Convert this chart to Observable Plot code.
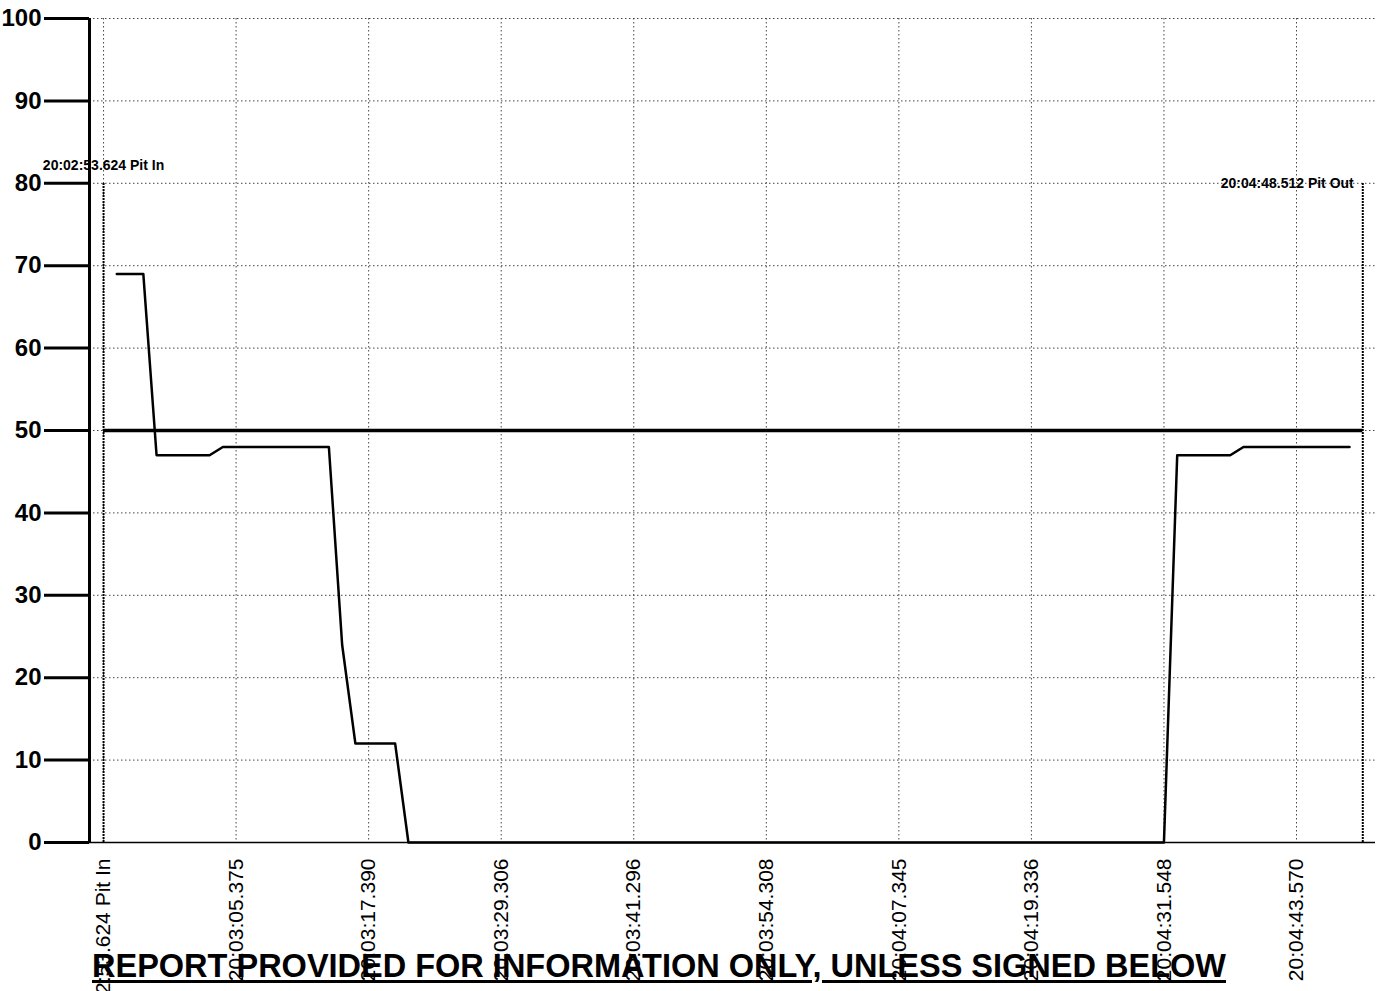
<!DOCTYPE html>
<html>
<head>
<meta charset="utf-8">
<script src="https://cdn.jsdelivr.net/npm/d3@7"></script>
<script src="https://cdn.jsdelivr.net/npm/@observablehq/plot@0.6"></script>
<style>
  html, body { margin: 0; padding: 0; background: #fff; }
  #wrap { position: relative; width: 1382px; height: 991px; overflow: hidden; }
  #report {
    position: absolute; left: 92px; top: 950px;
    font-family: "Liberation Sans", Arial, sans-serif; font-weight: bold;
    font-size: 32.5px; line-height: 32px; color: #000; white-space: nowrap;
    text-decoration: underline; text-decoration-thickness: 3px; text-underline-offset: 3px;
  }
</style>
</head>
<body>
<div id="wrap"><div id="report">REPORT PROVIDED FOR INFORMATION ONLY, UNLESS SIGNED BELOW</div></div>
<script>
// Sample index (ticks every 10 samples) and value
const sampleIdx = [1, 3, 4, 8, 9, 17, 18, 19, 22, 23, 80, 81, 85, 86, 94];
const sampleVal = [69, 69, 47, 47, 48, 48, 24, 12, 12, 0, 0, 47, 47, 48, 48];

const xTickIdx = [0, 10, 20, 30, 40, 50, 60, 70, 80, 90];
const xTickLabels = ["20:02:53.624 Pit In", "20:03:05.375", "20:03:17.390", "20:03:29.306",
  "20:03:41.296", "20:03:54.308", "20:04:07.345", "20:04:19.336", "20:04:31.548", "20:04:43.570"];
const yTicks = [0, 10, 20, 30, 40, 50, 60, 70, 80, 90, 100];

const threshold = 50;
const markerIdx = [0, 95];
const markerLevel = 80;
const markerLabels = ["20:02:53.624 Pit In", "20:04:48.512 Pit Out"];

const xDomain = [-1.06, 95.96];

const series = sampleIdx.map((i, k) => ({i, v: sampleVal[k]}));
const markers = markerIdx.map((i, k) => ({i, y: markerLevel, label: markerLabels[k]}));
const labelMap = new Map(xTickIdx.map((d, k) => [d, xTickLabels[k]]));

const chart = Plot.plot({
  width: 1382,
  height: 991,
  marginLeft: 89,
  marginRight: 7,
  marginTop: 18,
  marginBottom: 149,
  x: {domain: xDomain},
  y: {domain: [0, 100]},
  style: {fontFamily: "'Liberation Sans', Arial, sans-serif", background: "#fff", color: "#000", overflow: "hidden"},
  marks: [
    Plot.gridY(yTicks, {stroke: "#333", strokeOpacity: 0.9, strokeDasharray: "1.5,2.5", strokeWidth: 1}),
    Plot.gridX(xTickIdx, {stroke: "#333", strokeOpacity: 0.9, strokeDasharray: "1.5,2.5", strokeWidth: 1}),
    Plot.ruleY([0], {stroke: "#000", strokeWidth: 1.5}),
    Plot.ruleX([xDomain[0]], {y1: 0, y2: 100, stroke: "#000", strokeWidth: 3}),
    Plot.axisY(yTicks, {tickSize: 45, tickPadding: 3, strokeWidth: 3, fontSize: 24, fontWeight: "bold", label: null}),
    Plot.axisX(xTickIdx, {tickFormat: d => labelMap.get(d), tickRotate: -90, tickSize: 0, tickPadding: 16, fontSize: 21, label: null}),
    Plot.ruleY([threshold], {x1: markerIdx[0], x2: markerIdx[1], stroke: "#000", strokeWidth: 3.5}),
    Plot.ruleX(markers, {x: "i", y1: 0, y2: "y", stroke: "#000", strokeWidth: 2, strokeDasharray: "2,1"}),
    Plot.line(series, {x: "i", y: "v", stroke: "#000", strokeWidth: 2.5}),
    Plot.text(markers.slice(0, 1), {x: "i", y: "y", text: "label", textAnchor: "middle", lineAnchor: "bottom", dy: -13, fontSize: 14, fontWeight: "bold"}),
    Plot.text(markers.slice(1), {x: "i", y: "y", text: "label", textAnchor: "end", lineAnchor: "middle", dx: -9, fontSize: 14, fontWeight: "bold"})
  ]
});
document.getElementById("wrap").prepend(chart);
</script>
</body>
</html>
